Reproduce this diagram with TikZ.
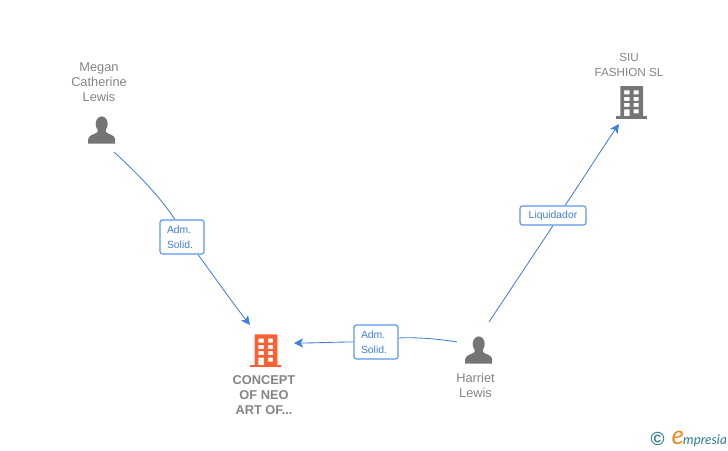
\documentclass[tikz,border=0pt]{standalone}
\usepackage{fontspec}
\setmainfont{Liberation Sans}
\newfontfamily\logofont{Lato}
\usetikzlibrary{arrows.meta,backgrounds}
\definecolor{txtgray}{HTML}{858585}
\definecolor{icongray}{HTML}{757575}
\definecolor{edgeblue}{HTML}{3F80DC}
\definecolor{boxblue}{HTML}{5C98E8}
\definecolor{orangeicon}{HTML}{FF5F33}
\definecolor{logoteal}{HTML}{2F7F93}
\definecolor{logoorange}{HTML}{F08A1D}
\tikzset{
  x=1pt,y=-1pt,
  conn/.style={draw=edgeblue,line width=0.85pt},
  tip/.style={-{Stealth[length=9pt,width=9pt,inset=2.2pt]}},
  rolebox/.style={draw=boxblue,line width=1.2pt,fill=white,rounded corners=2.5pt,inner sep=0pt,
    text=edgeblue,font=\fontsize{10.4}{15}\selectfont,align=left},
  nametext/.style={text=txtgray,font=\fontsize{12.8}{15}\selectfont,align=center,inner sep=0pt},
  anchorbox/.style={inner sep=0pt,minimum width=30pt,minimum height=30pt},
  pics/persona/.style={code={
    \fill[icongray] (0,0) ellipse (6 and 7.6);
    \fill[icongray] (-4,4) -- (-4.2,8) .. controls (-5.5,10) and (-13,10.5) .. (-13.5,15)
      -- (-13.5,19.5) -- (13.5,19.5) -- (13.5,15)
      .. controls (13,10.5) and (5.5,10) .. (4.2,8) -- (4,4) -- cycle;
  }},
  pics/bldg/.style={code={
    \fill[#1,even odd rule] (-11.3,-16.3) rectangle (11.5,14.5)
      (-7.5,-12) rectangle (-2,-8)
      (2,-12) rectangle (7,-8)
      (-7.5,-5.5) rectangle (-2,-1.5)
      (2,-5.5) rectangle (7,-1.5)
      (-7.5,0.5) rectangle (-2,4.5)
      (2,0.5) rectangle (7,4.5)
      (-7.5,7) rectangle (-2,14.5)
      (2,7) rectangle (7,11);
    \fill[#1] (-16,14) rectangle (15.5,16.8);
  }},
}
\begin{document}
\begin{tikzpicture}
\useasboundingbox (0,0) rectangle (728,450);
% icons
\node[anchorbox] (megan) at (101.7,130) {};
\pic at (101.7,124) {persona};
\node[anchorbox] (harriet) at (478.7,350) {};
\pic at (478.7,344) {persona};
\node[anchorbox] (concept) at (265.8,351) {};
\pic at (265.8,350.6) {bldg=orangeicon};
\node[anchorbox] (siu) at (631.7,102) {};
\pic at (631.7,102.3) {bldg=icongray};
% names
\node[nametext] (meganname) at (99,82) {Megan\\Catherine\\Lewis};
\node[nametext,font=\fontsize{11.7}{15}\selectfont] (siuname) at (629,64.5) {SIU\\FASHION SL};
\node[nametext,font=\fontsize{12.8}{15}\selectfont\bfseries] (conceptname) at (264,395) {CONCEPT\\OF NEO\\ART OF...};
\node[nametext] (harrietname) at (475.5,385.5) {Harriet\\Lewis};
% role boxes
\node[rolebox,minimum width=44pt,minimum height=34pt,text width=30pt] (role1) at (182,237) {Adm.\\Solid.};
\node[rolebox,minimum width=44pt,minimum height=34pt,text width=30pt] (role2) at (376,342) {Adm.\\Solid.};
\node[rolebox,minimum width=66pt,minimum height=19pt,align=center] (role3) at (553,215.5) {Liquidador};
% connectors
\begin{scope}[on background layer]
\draw[conn] ([shift={(12.3,22)}]megan.center) .. controls (140,176) and (160,197) .. ([xshift=-7pt]role1.north);
\draw[conn,tip] ([xshift=16pt]role1.south) .. controls (213,275) and (232,302) .. ([shift={(-15.8,-26)}]concept.center);
\draw[conn] ([shift={(-21.7,-8)}]harriet.center) .. controls (440,339) and (415,337) .. ([yshift=4pt]role2.east);
\draw[conn,tip] (role2.west) .. controls (335,342) and (315,343) .. ([shift={(28.2,-8)}]concept.center);
\draw[conn] ([shift={(10.3,-28)}]harriet.center) -- (role3.south);
\draw[conn,tip] ([xshift=12pt]role3.north) .. controls (585,176) and (603,147) .. ([shift={(-12.7,22)}]siu.center);
\end{scope}
% logo
\node[inner sep=0pt,text=logoteal,font=\fontsize{19}{19}\selectfont\bfseries] (logoc) at (657.7,439) {©};
\node[inner sep=0pt,anchor=base west,text=logoorange,font=\logofont\itshape\fontsize{26}{26}\selectfont] (logoe) at (671.5,444) {e};
\node[inner sep=0pt,anchor=base west,text=logoteal,font=\logofont\itshape\fontsize{13.4}{14}\selectfont] (logotext) at (683,444) {mpresia};
\end{tikzpicture}
\end{document}
